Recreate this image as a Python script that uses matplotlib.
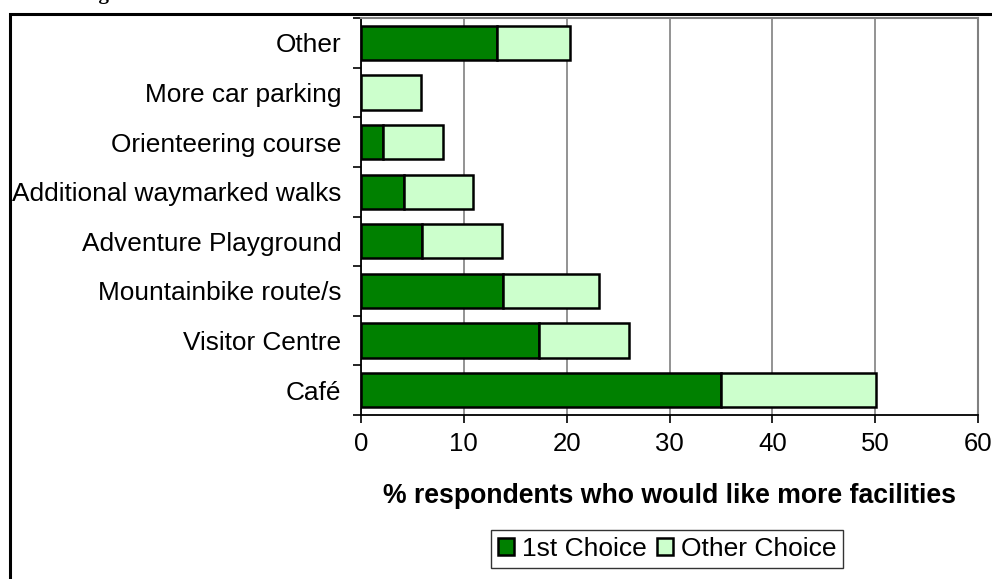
import numpy as np
import matplotlib.pyplot as plt
from matplotlib.patches import Rectangle

plt.rcParams['font.family'] = ['Liberation Sans', 'DejaVu Sans']

categories = ['Café', 'Visitor Centre', 'Mountainbike route/s', 'Adventure Playground',
              'Additional waymarked walks', 'Orienteering course', 'More car parking', 'Other']
first_choice = [35.0, 17.3, 13.8, 5.9, 4.2, 2.1, 0.0, 13.2]
other_choice = [15.1, 8.8, 9.3, 7.8, 6.7, 5.9, 5.8, 7.1]
xticks = [0, 10, 20, 30, 40, 50, 60]

W, H = 992, 579
fig = plt.figure(figsize=(W / 100, H / 100), dpi=100)
ax = fig.add_axes([361 / W, 1 - 415 / H, 617 / W, 397 / H])

# outer chart border (clipped by the image edge)
fig.patches.append(Rectangle((10 / W, -0.2), 1.2, 1.2 - 14 / H, transform=fig.transFigure,
                             fill=False, edgecolor='black', linewidth=2.2, zorder=0))
# cut-off caption above the chart
fig.text(81 / W, 1 + 1 / H, 'Figure', fontsize=15, fontweight='bold',
         family='Liberation Serif', va='baseline', ha='left')

y = np.arange(len(categories))
ax.barh(y, first_choice, height=0.69, color='#008000', edgecolor='black', linewidth=1.8,
        label='1st Choice', zorder=3)
ax.barh(y, other_choice, left=first_choice, height=0.69, color='#CCFFCC', edgecolor='black',
        linewidth=1.8, label='Other Choice', zorder=3)

ax.set_xlim(0, 60)
ax.set_ylim(-0.5, len(categories) - 0.5)
ax.set_xticks(xticks)
ax.set_xticklabels([str(t) for t in xticks], fontsize=18.5)
ax.set_yticks(y)
ax.set_yticklabels(categories, fontsize=18.9)
ax.set_yticks(np.arange(-0.5, len(categories), 1), minor=True)
ax.tick_params(axis='y', which='major', length=0, pad=14)
ax.tick_params(axis='y', which='minor', length=6, width=1.2, direction='out')
ax.tick_params(axis='x', length=6, width=1.2, direction='out', pad=6)
ax.xaxis.grid(True, color='#808080', linewidth=1.2, zorder=0)
ax.set_axisbelow(True)

for s in ['top', 'right']:
    ax.spines[s].set_color('#808080')
    ax.spines[s].set_linewidth(1.5)
for s in ['left', 'bottom']:
    ax.spines[s].set_color('black')
    ax.spines[s].set_linewidth(1.3)

ax.set_xlabel('% respondents who would like more facilities', fontsize=19.2,
              fontweight='bold', labelpad=20)

leg = ax.legend(loc='center', bbox_to_anchor=(667 / W, 1 - 549 / H),
                bbox_transform=fig.transFigure, ncol=2, fontsize=19, frameon=True,
                fancybox=False, edgecolor='black', handlelength=0.6, handleheight=0.6,
                handletextpad=0.3, columnspacing=0.4, borderpad=0.25)
leg.get_frame().set_linewidth(1.0)

fig.savefig('out.png', dpi=100)
